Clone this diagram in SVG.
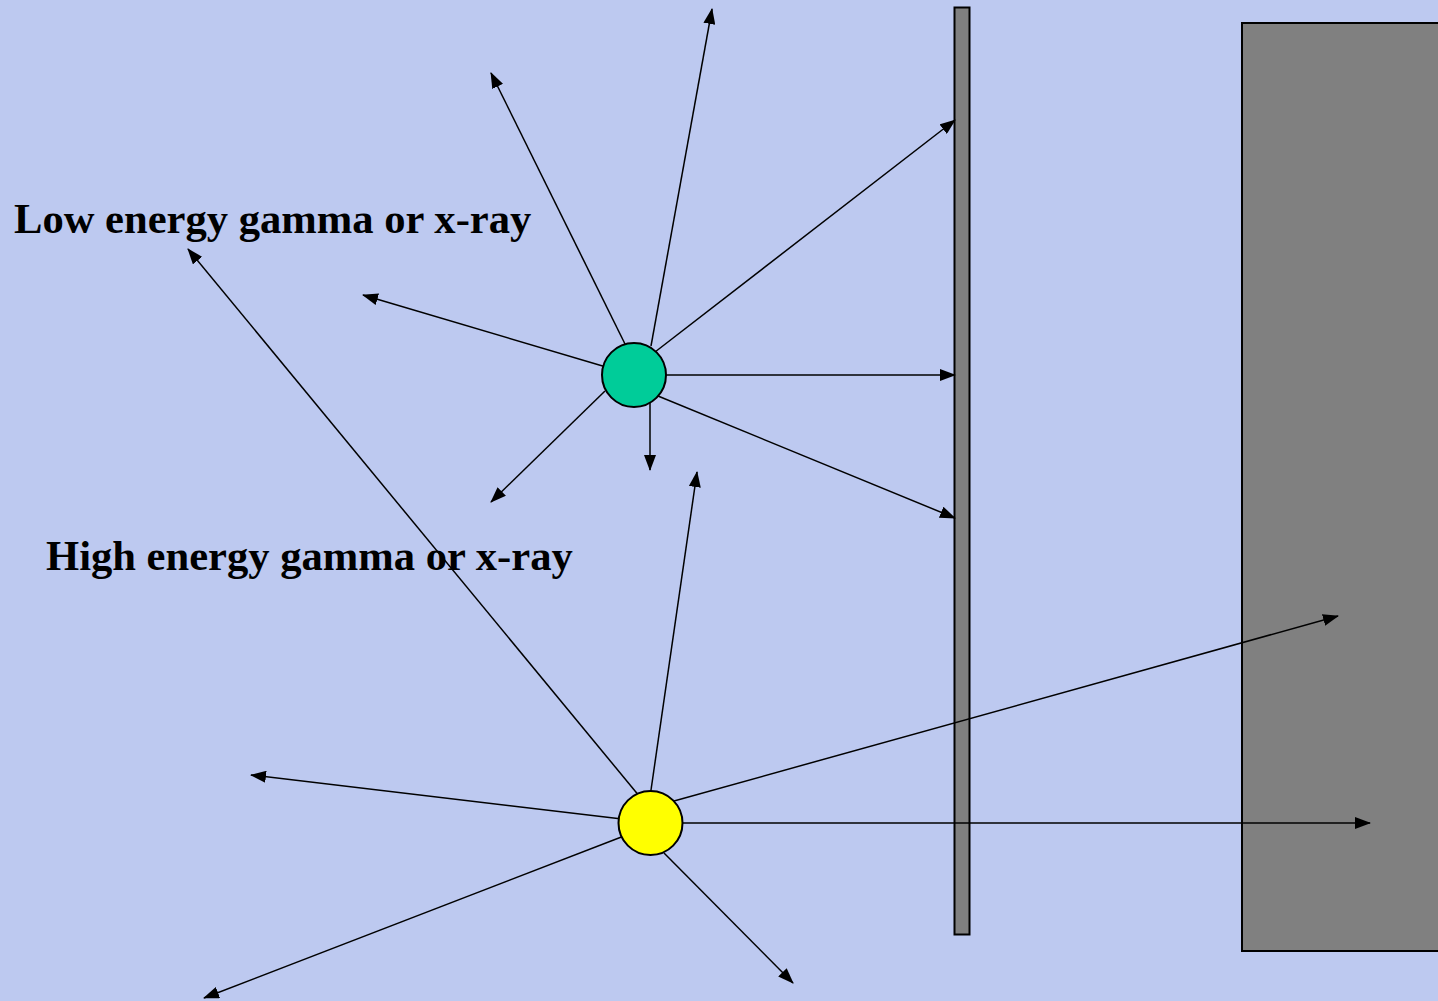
<svg xmlns="http://www.w3.org/2000/svg" width="1438" height="1001" viewBox="0 0 1438 1001">
<defs>
<marker id="ah" markerUnits="userSpaceOnUse" markerWidth="16" markerHeight="12" refX="15" refY="6" orient="auto">
<path d="M0,0 L16,6 L0,12 Z" fill="#000"/>
</marker>
<style>
.c{stroke:#000;stroke-width:1.5;fill:none;marker-end:url(#ah)}
.t{font-family:"Liberation Serif","Times New Roman",serif;font-weight:bold;font-size:42.6px;fill:#000}
.s{stroke:#000;stroke-width:2}
</style>
</defs>
<rect width="1438" height="1001" fill="#BDC9F0"/>
<g id="thin-shield"><rect class="s" x="954.5" y="7.5" width="15" height="927" fill="#808080"/></g>
<g id="thick-shield"><rect class="s" x="1242" y="23" width="200" height="928" fill="#808080"/></g>
<g id="connectors">
<line class="c" x1="651" y1="346" x2="712" y2="9"/>
<line class="c" x1="626" y1="346" x2="491" y2="73"/>
<line class="c" x1="655" y1="352" x2="955" y2="120"/>
<line class="c" x1="660" y1="375" x2="955" y2="375"/>
<line class="c" x1="658" y1="396" x2="955" y2="518"/>
<line class="c" x1="650" y1="395" x2="650" y2="470"/>
<line class="c" x1="605" y1="391" x2="491" y2="502"/>
<line class="c" x1="606" y1="367" x2="363" y2="295"/>
<line class="c" x1="640" y1="797" x2="188" y2="249"/>
<line class="c" x1="650" y1="797" x2="697" y2="472"/>
<line class="c" x1="674" y1="801" x2="1338" y2="616"/>
<line class="c" x1="676" y1="823" x2="1370" y2="823"/>
<line class="c" x1="664" y1="853" x2="793" y2="983"/>
<line class="c" x1="624" y1="836" x2="204" y2="998"/>
<line class="c" x1="622" y1="819" x2="251" y2="775"/>
</g>
<g id="low-source"><circle cx="634" cy="375" r="32" fill="#00CC99" stroke="#000" stroke-width="2"/></g>
<g id="high-source"><circle cx="650.5" cy="823" r="32" fill="#FFFF00" stroke="#000" stroke-width="2"/></g>
<g id="labels">
<text class="t" x="14" y="233">Low energy gamma or x-ray</text>
<text class="t" x="46" y="570">High energy gamma or x-ray</text>
</g>
</svg>
